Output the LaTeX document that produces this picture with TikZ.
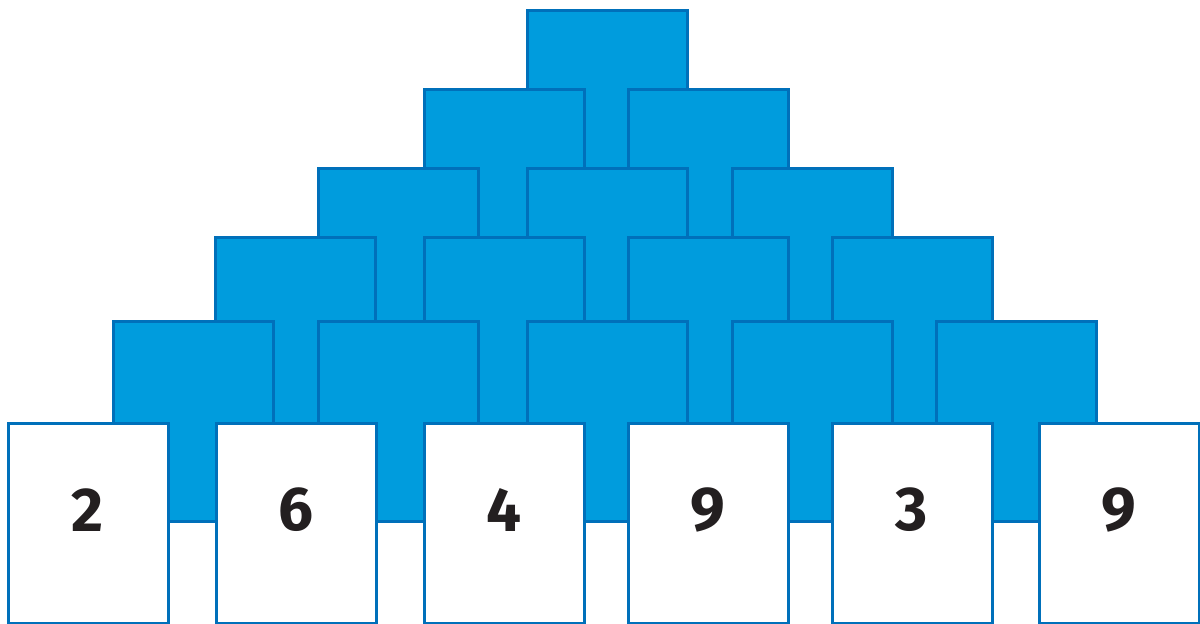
\documentclass[tikz,border=0pt]{standalone}
\usepackage{fontspec}
\setmainfont{Fira Sans}
\definecolor{boxfill}{RGB}{0,156,221}
\definecolor{boxline}{RGB}{0,112,186}
\definecolor{numcol}{RGB}{35,31,32}
\begin{document}
\begin{tikzpicture}[x=0.5pt,y=-0.5pt,
  bluebox/.style={draw=boxline,fill=boxfill,line width=1.5pt,anchor=north west,
    minimum width=80pt,minimum height=100pt,inner sep=0pt,outer sep=0pt},
  whitebox/.style={draw=boxline,fill=white,line width=1.5pt,anchor=north west,
    minimum width=80pt,minimum height=100pt,inner sep=0pt,outer sep=0pt},
  num/.style={text=numcol,font=\fontsize{31}{36}\selectfont\bfseries,inner sep=0pt}]
\useasboundingbox (0,0) rectangle (1200,623);
\clip (0,0) rectangle (1200,623);
% row 1
\node[bluebox] (a1) at (527,10) {};
% row 2
\node[bluebox] (b1) at (424,89) {};
\node[bluebox] (b2) at (628,89) {};
% row 3
\node[bluebox] (c1) at (318,168) {};
\node[bluebox] (c2) at (527,168) {};
\node[bluebox] (c3) at (732,168) {};
% row 4
\node[bluebox] (d1) at (215,237) {};
\node[bluebox] (d2) at (424,237) {};
\node[bluebox] (d3) at (628,237) {};
\node[bluebox] (d4) at (832,237) {};
% row 5
\node[bluebox] (e1) at (113,321) {};
\node[bluebox] (e2) at (318,321) {};
\node[bluebox] (e3) at (527,321) {};
\node[bluebox] (e4) at (732,321) {};
\node[bluebox] (e5) at (936,321) {};
% bottom row
\node[whitebox] (w1) at (8,423) {};
\node[whitebox] (w2) at (216,423) {};
\node[whitebox] (w3) at (424,423) {};
\node[whitebox] (w4) at (628,423) {};
\node[whitebox] (w5) at (832,423) {};
\node[whitebox] (w6) at (1039,423) {};
% numbers
\node[num] (n1) at (88,510) {2};
\node[num] (n2) at (296,510) {6};
\node[num] (n3) at (504,510) {4};
\node[num] (n4) at (708,510) {9};
\node[num] (n5) at (912,510) {3};
\node[num] (n6) at (1119,510) {9};
\end{tikzpicture}
\end{document}
